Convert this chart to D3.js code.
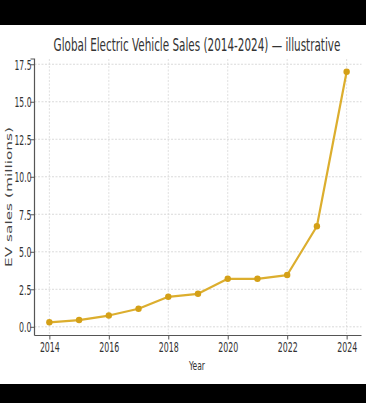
<!DOCTYPE html>
<html><head><meta charset="utf-8">
<script src="https://cdn.jsdelivr.net/npm/d3@7"></script>
<style>html,body{margin:0;padding:0;background:#000;}svg{display:block;}</style>
</head><body>
<script>
const years = [2014,2015,2016,2017,2018,2019,2020,2021,2022,2023,2024];
const sales = [0.3,0.45,0.75,1.2,2.0,2.2,3.2,3.2,3.45,6.7,17.0];
const yTicks = [0,2.5,5,7.5,10,12.5,15,17.5];
const xTicks = [2014,2016,2018,2020,2022,2024];
const title = "Global Electric Vehicle Sales (2014-2024) — illustrative";
const xLabel = "Year";
const yLabel = "EV sales (millions)";

const W = 366, H = 403;
const svg = d3.select("body").append("svg").attr("width", W).attr("height", H);
svg.append("rect").attr("x",0).attr("y",0).attr("width",W).attr("height",H).attr("fill","#000");
svg.append("rect").attr("x",0).attr("y",25).attr("width",W).attr("height",359).attr("fill","#fff");

const plot = {l:34.5, r:361.5, t:59, b:335.5};
const x = d3.scaleLinear().domain([2013.5, 2024.5]).range([plot.l, plot.r]);
const y = d3.scaleLinear().domain([-0.58, 17.85]).range([plot.b, plot.t]);

// horizontal squeeze helper: scale text to a target width
function squeeze(sel, target, anchorX) {
  sel.each(function() {
    const t = d3.select(this);
    const w = this.getComputedTextLength();
    const s = w > 0 ? target / w : 1;
    const x0 = anchorX !== undefined ? anchorX : (+t.attr("x") || 0);
    t.attr("x", x0 / s).attr("transform", `scale(${s},1)`);
  });
}

// grid
const g = svg.append("g");
g.selectAll(".gy").data(yTicks).join("line")
  .attr("x1",plot.l).attr("x2",plot.r).attr("y1",d=>y(d)).attr("y2",d=>y(d))
  .attr("stroke","#d0d0d0").attr("stroke-width",0.8).attr("stroke-dasharray","2,1.5");
g.selectAll(".gx").data(xTicks).join("line")
  .attr("y1",plot.t).attr("y2",plot.b).attr("x1",d=>x(d)).attr("x2",d=>x(d))
  .attr("stroke","#d8d8d8").attr("stroke-width",0.8).attr("stroke-dasharray","2,1.5");

// axes
const yAxis = d3.axisLeft(y).tickValues(yTicks).tickFormat(d3.format(".1f")).tickSize(4).tickPadding(2);
const xAxis = d3.axisBottom(x).tickValues(xTicks).tickFormat(d3.format("d")).tickSize(4).tickPadding(3);
const ya = svg.append("g").attr("transform",`translate(${plot.l},0)`).call(yAxis);
const xa = svg.append("g").attr("transform",`translate(0,${plot.b})`).call(xAxis);
[ya, xa].forEach(a => {
  a.select(".domain").attr("stroke","#555").attr("stroke-width",1.2);
  a.selectAll(".tick line").attr("stroke","#555");
  a.selectAll(".tick text").attr("fill","#333").attr("font-family","'DejaVu Sans Condensed',sans-serif")
   .attr("font-size",13.5);
});
ya.select(".domain").attr("d",`M-4,${plot.t}H0V${plot.b}`);
xa.select(".domain").attr("d",`M${plot.l},0H${plot.r}`);
ya.selectAll(".tick text").attr("dy","0.36em");
ya.selectAll(".tick text").each(function(d){
  const t = d3.select(this);
  const w = this.getComputedTextLength();
  const target = String(t.text()).length === 4 ? 17 : 12.5;
  const s = target / w;
  t.attr("x", -3 / s).attr("transform", `scale(${s},1)`);
});
squeeze(xa.selectAll(".tick text"), 20, 0);

// line + markers
const line = d3.line().x((d,i)=>x(years[i])).y(d=>y(d));
svg.append("path").datum(sales).attr("d",line).attr("fill","none")
  .attr("stroke","#dcae2e").attr("stroke-width",2.2).attr("stroke-linejoin","round");
svg.selectAll(".pt").data(sales).join("circle")
  .attr("cx",(d,i)=>x(years[i])).attr("cy",d=>y(d)).attr("r",3.2).attr("fill","#d4a017");

// title and labels
const tg = svg.append("g").attr("transform","translate(197,51)");
squeeze(tg.append("text").attr("text-anchor","middle")
  .attr("font-family","'DejaVu Sans Condensed',sans-serif").attr("font-size",17.5).attr("fill","#333")
  .text(title), 287, 0);
const xg = svg.append("g").attr("transform","translate(197,370)");
squeeze(xg.append("text").attr("text-anchor","middle")
  .attr("font-family","'DejaVu Sans Condensed',sans-serif").attr("font-size",13).attr("fill","#333")
  .text(xLabel), 16, 0);
const yg = svg.append("g").attr("transform","translate(11.5,197) rotate(-90)");
squeeze(yg.append("text").attr("text-anchor","middle")
  .attr("font-family","'DejaVu Sans',sans-serif").attr("font-size",9.5).attr("fill","#444")
  .text(yLabel), 140, 0);
</script>
</body></html>
